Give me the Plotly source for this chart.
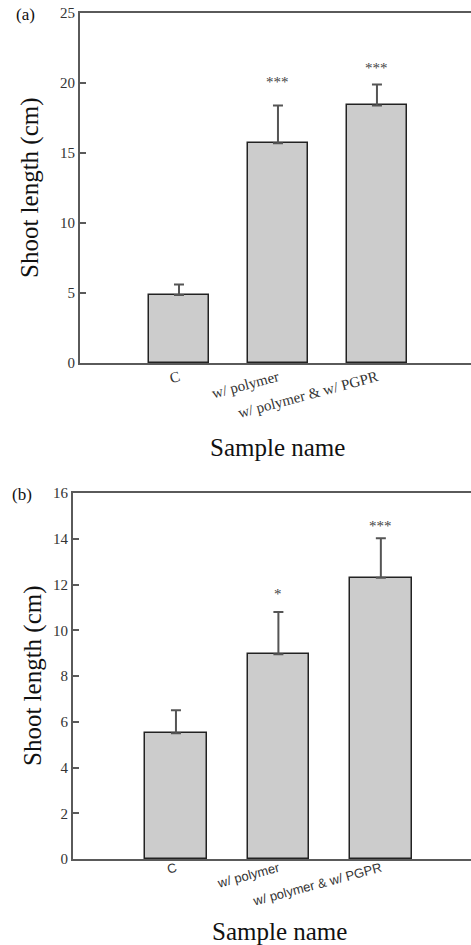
import plotly.graph_objects as go

# ---- data ----
categories = ["C", "w/ polymer", "w/ polymer & w/ PGPR"]
shoot_a = [4.85, 15.7, 18.4]
err_a = [0.75, 2.7, 1.5]
stars_a = ["", "***", "***"]
shoot_b = [5.5, 8.95, 12.3]
err_b = [1.0, 1.85, 1.72]
stars_b = ["", "*", "***"]
yticks_a = [0, 5, 10, 15, 20, 25]
yticks_b = [0, 2, 4, 6, 8, 10, 12, 14, 16]

W, H = 471, 945
def px(sx):
    return sx / W
def py(sy):
    return 1 - sy / H

SERIF = "Liberation Serif"
SANS = "Liberation Sans"
AX = "#5a5a5a"

fig = go.Figure()

def add_panel(vals, errs, xa, ya):
    fig.add_trace(go.Bar(
        x=categories, y=vals, width=0.6,
        marker=dict(color="#cccccc", line=dict(color="#222222", width=1.5)),
        error_y=dict(type="data", array=errs, arrayminus=[0] * len(errs),
                     symmetric=False, color="#555555", thickness=2, width=5),
        xaxis=xa, yaxis=ya, showlegend=False))

add_panel(shoot_a, err_a, "x", "y")
add_panel(shoot_b, err_b, "x2", "y2")

def yax(domain, ticks, anchor):
    return dict(domain=domain, range=[ticks[0], ticks[-1]], tickvals=ticks,
                ticktext=[str(t) for t in ticks], anchor=anchor,
                showgrid=False, zeroline=False, showline=True, linecolor=AX,
                linewidth=2, ticks="inside", ticklen=6, tickwidth=1.5,
                tickcolor=AX, automargin=False, ticklabeloverflow="allow",
                tickfont=dict(family=SERIF, size=15, color="#333"))

def xax(domain, rng, anchor, font, standoff):
    return dict(domain=domain, range=rng, anchor=anchor, showgrid=False,
                zeroline=False, showline=True, linecolor=AX, linewidth=2,
                mirror=True, ticks="", tickangle=-15, tickfont=font,
                automargin=False, ticklabelstandoff=standoff,
                ticklabeloverflow="allow")

fig.update_layout(
    width=W, height=H, margin=dict(l=0, r=0, t=0, b=0, autoexpand=False),
    paper_bgcolor="white", plot_bgcolor="white", bargap=0,
    font=dict(family=SERIF),
    xaxis=xax([px(80), 1], [-1.0, 2.95], "y",
              dict(family=SERIF, size=15, color="#333"), -2),
    yaxis=yax([py(363), py(13)], yticks_a, "x"),
    xaxis2=xax([px(73), 1], [-1.005, 2.88], "y2",
               dict(family=SANS, size=13, color="#333"), -5),
    yaxis2=yax([py(859), py(493)], yticks_b, "x2"),
)

ann = []
def note(text, sx, sy, size, angle=0):
    ann.append(dict(text=text, x=px(sx), y=py(sy), xref="paper", yref="paper",
                    xanchor="center", yanchor="middle", textangle=angle,
                    showarrow=False,
                    font=dict(family=SERIF, size=size, color="#111")))

# panel letters
note("(a)", 25, 15, 17)
note("(b)", 22, 494, 17)
# axis titles
note("Shoot length (cm)", 30, 188, 25, -90)
note("Shoot length (cm)", 33, 676, 25, -90)
note("Sample name", 277, 447, 25)
note("Sample name", 279, 931, 25)

# significance stars
shifts_a = [0, 13, 6]
for c, v, e, s, sh in zip(categories, shoot_a, err_a, stars_a, shifts_a):
    if s:
        ann.append(dict(text=s, x=c, y=v + e, xref="x", yref="y",
                        yanchor="bottom", yshift=sh, showarrow=False,
                        font=dict(family=SERIF, size=15, color="#444")))
shifts_b = [0, 8, 2]
for c, v, e, s, sh in zip(categories, shoot_b, err_b, stars_b, shifts_b):
    if s:
        ann.append(dict(text=s, x=c, y=v + e, xref="x2", yref="y2",
                        yanchor="bottom", yshift=sh, showarrow=False,
                        font=dict(family=SERIF, size=15, color="#444")))
fig.update_layout(annotations=ann)

fig.write_html("out.html", config={"displayModeBar": False},
               post_script="document.body.style.margin='0';")
